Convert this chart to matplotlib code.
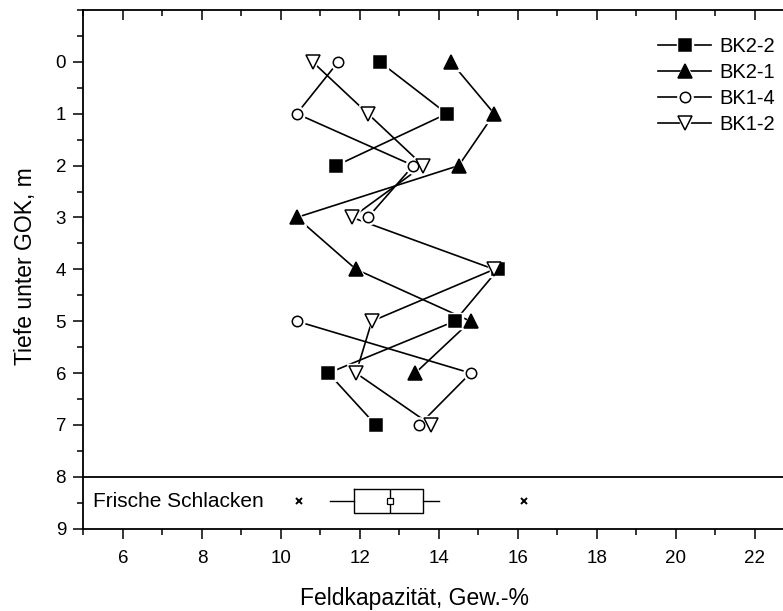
import numpy as np
import matplotlib
matplotlib.use("Agg")
from matplotlib import pyplot as plt
from matplotlib.ticker import MultipleLocator
from matplotlib.legend_handler import HandlerTuple

plt.rcParams['font.family'] = ['Liberation Sans', 'DejaVu Sans']

# depth in m below ground surface
tiefe = [0, 1, 2, 3, 4, 5, 6, 7]

# field capacity, wt-% (nan = no sample)
bk2_2 = [12.5, 14.2, 11.4, np.nan, 15.5, 14.4, 11.2, 12.4]
bk2_1 = [14.3, 15.4, 14.5, 10.4, 11.9, 14.8, 13.4, np.nan]
bk1_4 = [11.45, 10.4, 13.35, 12.2, np.nan, 10.4, 14.8, 13.5]
bk1_2 = [10.8, 12.2, 13.6, 11.8, 15.4, 12.3, 11.9, 13.8]

namen = ["BK2-2", "BK2-1", "BK1-4", "BK1-2"]
serien = [bk2_2, bk2_1, bk1_4, bk1_2]
marker = ["s", "^", "o", "v"]
gefuellt = [True, True, False, False]
groesse = [8.5, 9.5, 7.5, 9.5]

x_ticks = [6, 8, 10, 12, 14, 16, 18, 20, 22]

# fresh slag box plot summary
schlacke_q1 = 11.85
schlacke_med = 12.75
schlacke_q3 = 13.6
schlacke_mittel = 12.75
schlacke_min = 11.25
schlacke_max = 14.0
schlacke_extrem = [10.45, 16.15]
schlacke_tiefe = 8.47

fig = plt.figure(figsize=(7.83, 6.11), dpi=100)
ax = fig.add_axes([0.1066, 0.1347, 0.9585, 0.849])

handles = []
for name, s, m, f, ms in zip(namen, serien, marker, gefuellt, groesse):
    fc = 'black' if f else 'white'
    ln, = ax.plot(s, tiefe, '-', color='black', lw=1.2, zorder=2)
    halo, = ax.plot(s, tiefe, linestyle='none', marker=m, ms=ms + 3.5,
                    mfc='white', mec='white', zorder=3)
    mk, = ax.plot(s, tiefe, linestyle='none', marker=m, ms=ms,
                  mfc=fc, mec='black', mew=1.1, zorder=4)
    handles.append((ln, halo, mk))

ax.axhline(8, color='black', lw=1.3, zorder=1)

stats = [dict(med=schlacke_med, q1=schlacke_q1, q3=schlacke_q3,
              whislo=schlacke_min, whishi=schlacke_max,
              mean=schlacke_mittel, fliers=schlacke_extrem)]
ax.bxp(stats, positions=[schlacke_tiefe], vert=False, widths=0.47,
       showmeans=True, showcaps=False, manage_ticks=False,
       boxprops=dict(color='black', lw=1.0),
       whiskerprops=dict(color='black', lw=1.0),
       medianprops=dict(color='black', lw=1.0),
       meanprops=dict(marker='s', mfc='white', mec='black', ms=4, mew=0.9),
       flierprops=dict(marker='x', mec='black', ms=5, mew=1.4))

ax.text(5.25, 8.47, "Frische Schlacken", fontsize=15, va='center', ha='left')

ax.set_xlim(5, 24)
ax.set_ylim(9, -1)
ax.set_xticks(x_ticks)
ax.xaxis.set_minor_locator(MultipleLocator(1))
ax.yaxis.set_minor_locator(MultipleLocator(0.5))
ax.set_yticks(range(0, 10))

ax.tick_params(axis='both', which='major', direction='out', length=7.5,
               width=1.1, labelsize=13.5, pad=5)
ax.tick_params(axis='x', which='major', pad=8)
ax.tick_params(axis='both', which='minor', direction='out', length=4,
               width=1.1)
ax.tick_params(axis='x', which='both', top=True)
ax.tick_params(axis='x', which='major', labeltop=False)
for spine in ax.spines.values():
    spine.set_linewidth(1.3)

# top ticks point inward, bottom outward
for t in ax.xaxis.get_major_ticks() + ax.xaxis.get_minor_ticks():
    t.tick2line.set_marker(matplotlib.lines.TICKDOWN)

ax.set_xlabel("Feldkapazität, Gew.-%", fontsize=16.5, va='center')
ax.set_ylabel("Tiefe unter GOK, m", fontsize=16.5, va='center')
ax.xaxis.set_label_coords(0.4417, -0.1345)
ax.yaxis.set_label_coords(-0.0766, 0.506)

leg = ax.legend(handles, namen,
                handler_map={tuple: HandlerTuple(ndivide=1, pad=0)},
                loc='upper right', bbox_to_anchor=(0.99, 0.939),
                bbox_transform=fig.transFigure, frameon=False, fontsize=14.5,
                handlelength=2.65, handletextpad=0.4, labelspacing=0.35,
                borderaxespad=0, borderpad=0)

fig.savefig("out.png", dpi=100)
